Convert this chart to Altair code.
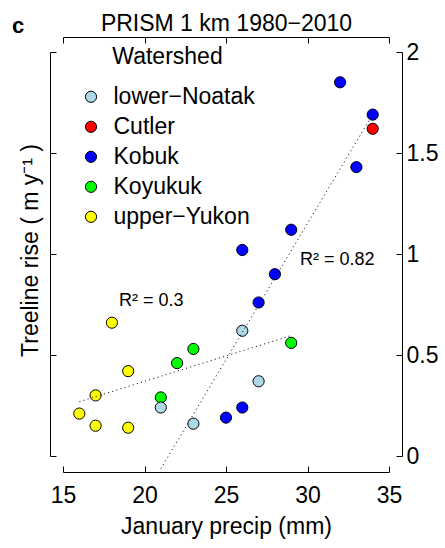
import altair as alt
import pandas as pd

FONT = "Liberation Sans"

# ---- data ----
watershed = (["upper-Yukon"] * 6 + ["Koyukuk"] * 4 + ["lower-Noatak"] * 4
             + ["Kobuk"] * 9 + ["Cutler"])
precip = [16, 17, 17, 18, 19, 19,
          21, 22, 23, 29,
          21, 23, 26, 27,
          25, 26, 26, 27, 28, 29, 32, 33, 34,
          34]
rise = [0.21, 0.30, 0.15, 0.66, 0.42, 0.14,
        0.29, 0.46, 0.53, 0.56,
        0.24, 0.16, 0.62, 0.37,
        0.19, 0.24, 1.02, 0.76, 0.90, 1.12, 1.85, 1.43, 1.69,
        1.62]

legend_order = ["lower-Noatak", "Cutler", "Kobuk", "Koyukuk", "upper-Yukon"]
legend_colors = ["#ADD8E6", "#FF0000", "#0000FF", "#00FF00", "#FFFF00"]

r2_labels = ["R² = 0.3", "R² = 0.82"]
r2_x = [18.44, 29.54]
r2_y = [0.743, 0.947]

x_ticks = [15, 20, 25, 30, 35]
y_ticks = [0, 0.5, 1, 1.5, 2]

df = pd.DataFrame({"watershed": watershed, "precip": precip, "rise": rise})
r2df = pd.DataFrame({"label": r2_labels, "x": r2_x, "y": r2_y})

W, H = 326, 404

xscale = alt.Scale(domain=[15, 35], nice=False, zero=False)
yscale = alt.Scale(domain=[0, 2], nice=False, zero=False)

common = dict(
    grid=False, domainColor="black", domainWidth=1, tickColor="black",
    tickWidth=1, tickSize={"expr": "-6"}, labelFont=FONT, labelFontSize=23,
    labelColor="black", labelFlush=False, titleFont=FONT, titleFontSize=23,
    titleColor="black", titleFontWeight="normal",
)

x_bottom = alt.Axis(orient="bottom", offset=16, values=x_ticks, labelPadding=18,
                    format="~g", title="January precip (mm)", titleX=W / 2,
                    titleY=61, titleBaseline="alphabetic", titleAlign="center",
                    **common)
x_top = alt.Axis(orient="top", offset=15, values=x_ticks, labels=False,
                 title="PRISM 1 km 1980−2010", titleX=W / 2, titleY=-7,
                 titleBaseline="alphabetic", titleAlign="center", **common)
y_left = alt.Axis(orient="left", offset=13, values=y_ticks, labels=False,
                  title="Treeline rise ( m y⁻¹ )", titleX=-13, titleY=198,
                  titleAngle=270, titleBaseline="alphabetic", titleAlign="center",
                  **common)
y_right = alt.Axis(orient="right", offset=13, values=y_ticks, labelPadding=10,
                   format="~g", labelAlign="left", labelBaseline="middle",
                   title=None, **common)

points = alt.Chart(df).mark_circle(size=125, stroke="black", strokeWidth=1,
                                   opacity=1).encode(
    x=alt.X("precip:Q", scale=xscale, axis=x_bottom),
    y=alt.Y("rise:Q", scale=yscale, axis=y_left),
    color=alt.Color(
        "watershed:N",
        scale=alt.Scale(domain=legend_order, range=legend_colors),
        legend=alt.Legend(
            title="Watershed", orient="none", legendX=16.5, legendY=-5.7,
            padding=0, symbolType="circle", symbolSize=125,
            symbolStrokeColor="black", symbolStrokeWidth=1, symbolOpacity=1,
            labelFont=FONT, labelFontSize=23, labelColor="black",
            labelOffset=11, rowPadding=6,
            labelExpr="replace(datum.label, '-', '−')",
            titleFont=FONT, titleFontSize=23, titleFontWeight="normal",
            titleColor="black", titleAnchor="middle", titleAlign="center",
            titlePadding=16,
        ),
    ),
)

lines = alt.Chart(df).transform_calculate(
    grp="(datum.watershed == 'upper-Yukon' || datum.watershed == 'Koyukuk') ? 'A' : 'B'"
).transform_regression("precip", "rise", groupby=["grp"]).mark_line(
    color="#222222", strokeWidth=1, strokeDash=[1.2, 3.1]
).encode(
    x=alt.X("precip:Q", scale=xscale, axis=x_top),
    y=alt.Y("rise:Q", scale=yscale, axis=y_right),
    detail="grp:N",
)

r2 = alt.Chart(r2df).mark_text(font=FONT, fontSize=18, align="left",
                               baseline="alphabetic", color="black").encode(
    x=alt.X("x:Q", scale=xscale, axis=None),
    y=alt.Y("y:Q", scale=yscale, axis=None),
    text="label:N",
)

clabel = alt.Chart(pd.DataFrame({"t": ["c"]})).mark_text(
    font=FONT, fontSize=22, fontWeight="bold", align="left",
    baseline="alphabetic", color="black"
).encode(x=alt.value(-51), y=alt.value(-19), text="t:N")

chart = alt.layer(points, lines, r2, clabel).resolve_axis(
    x="independent", y="independent"
).properties(
    width=W, height=H, autosize="none",
    padding={"left": 63, "top": 52, "right": 56, "bottom": 92},
    background="white",
).configure_view(stroke=None)

chart.save("out.html", embed_options={"renderer": "svg", "actions": False})
